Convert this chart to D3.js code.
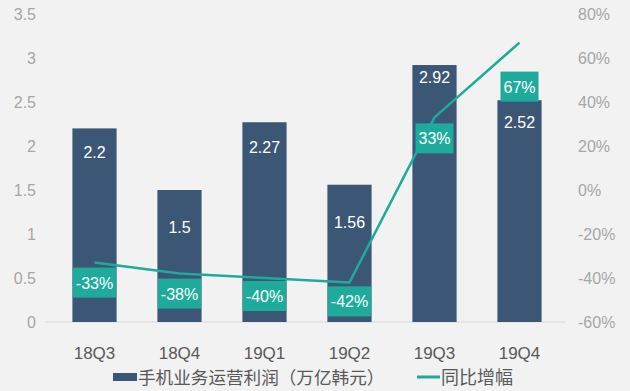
<!DOCTYPE html>
<html>
<head>
<meta charset="utf-8">
<script src="https://cdn.jsdelivr.net/npm/d3@7"></script>
<style>
  body { margin: 0; background: #f2f2f2; }
  svg { display: block; font-family: "Liberation Sans", Arial, sans-serif; }
</style>
</head>
<body>
<div id="chart"></div>
<script>
var width = 630;
var height = 391;

// data
var quarters = ["18Q3", "18Q4", "19Q1", "19Q2", "19Q3", "19Q4"];
var profit = [2.2, 1.5, 2.27, 1.56, 2.92, 2.52];     // 手机业务运营利润（万亿韩元）
var growth = [-33, -38, -40, -42, 33, 67];           // 同比增幅 %
var leftTicks = [0, 0.5, 1, 1.5, 2, 2.5, 3, 3.5];
var rightTicks = [-60, -40, -20, 0, 20, 40, 60, 80];

// label placement (px below the mark), as in the original
var valueDy = [24, 37, 25, 37, 12, 22];
var growthDy = [20, 20, 18, 19, 21, 44];

var barColor = "#3c5675";
var teal = "#1eab9c";

var svg = d3.select("#chart").append("svg")
    .attr("width", width)
    .attr("height", height);

svg.append("rect").attr("width", width).attr("height", height).attr("fill", "#f2f2f2");

var x = d3.scaleBand().domain(quarters).range([52, 562]).paddingInner(0.48).paddingOuter(0.24);
var y = d3.scaleLinear().domain([0, 3.5]).range([322, 14]);
var y2 = d3.scaleLinear().domain([-60, 80]).range([322, 14]);

// left axis
var yAxis = d3.axisLeft(y).tickValues(leftTicks).tickSize(0).tickPadding(0)
    .tickFormat(function(d) { return d; });
var gy = svg.append("g").attr("transform", "translate(36,0)").call(yAxis);
gy.select(".domain").remove();
gy.selectAll("text").attr("fill", "#a6a6a6").style("font-size", "16px");

// right axis
var yAxis2 = d3.axisRight(y2).tickValues(rightTicks).tickSize(0).tickPadding(0)
    .tickFormat(function(d) { return d + "%"; });
var gy2 = svg.append("g").attr("transform", "translate(578,0)").call(yAxis2);
gy2.select(".domain").remove();
gy2.selectAll("text").attr("fill", "#a6a6a6").style("font-size", "16px");

// baseline
svg.append("line")
    .attr("x1", 45).attr("x2", 566)
    .attr("y1", y(0)).attr("y2", y(0))
    .attr("stroke", "#d9d9d9").attr("stroke-width", 1);

// bars
svg.selectAll("rect.bar")
    .data(profit)
    .enter()
    .append("rect")
    .attr("class", "bar")
    .attr("x", function(d, i) { return x(quarters[i]); })
    .attr("y", function(d) { return y(d); })
    .attr("width", x.bandwidth())
    .attr("height", function(d) { return y(0) - y(d); })
    .attr("fill", barColor);

// bar value labels
svg.selectAll("text.val")
    .data(profit)
    .enter()
    .append("text")
    .attr("class", "val")
    .attr("x", function(d, i) { return x(quarters[i]) + x.bandwidth() / 2; })
    .attr("y", function(d, i) { return y(d) + valueDy[i] + 6; })
    .attr("text-anchor", "middle")
    .attr("fill", "#ffffff")
    .style("font-size", "16px")
    .text(function(d) { return d; });

// growth line
var line = d3.line()
    .x(function(d, i) { return x(quarters[i]) + x.bandwidth() / 2; })
    .y(function(d) { return y2(d); });

svg.append("path")
    .datum(growth)
    .attr("d", line)
    .attr("fill", "none")
    .attr("stroke", teal)
    .attr("stroke-width", 2.5)
    .attr("stroke-linejoin", "round");

// growth labels in boxes
var gl = svg.selectAll("g.glab")
    .data(growth)
    .enter()
    .append("g")
    .attr("class", "glab")
    .attr("transform", function(d, i) {
        return "translate(" + (x(quarters[i]) + x.bandwidth() / 2) + "," + (y2(d) + growthDy[i]) + ")";
    });

gl.append("rect").attr("fill", teal);
gl.append("text")
    .attr("text-anchor", "middle")
    .attr("y", 6)
    .attr("fill", "#ffffff")
    .style("font-size", "16px")
    .text(function(d) { return d + "%"; });

gl.each(function() {
    var g = d3.select(this);
    var w = g.select("text").node().getComputedTextLength() + 6;
    g.select("rect")
        .attr("x", -w / 2).attr("y", -15)
        .attr("width", w).attr("height", 30);
});

// x labels
svg.selectAll("text.xl")
    .data(quarters)
    .enter()
    .append("text")
    .attr("class", "xl")
    .attr("x", function(d) { return x(d) + x.bandwidth() / 2; })
    .attr("y", 359)
    .attr("text-anchor", "middle")
    .attr("fill", "#595959")
    .style("font-size", "17px")
    .text(function(d) { return d; });

// legend
var legend = svg.append("g");
legend.append("rect")
    .attr("x", 113).attr("y", 373)
    .attr("width", 24).attr("height", 8)
    .attr("fill", barColor);
legend.append("text")
    .attr("x", 138).attr("y", 384)
    .attr("fill", "#595959")
    .style("font-size", "17.6px")
    .style("font-family", "'Noto Sans CJK SC', sans-serif")
    .text("手机业务运营利润（万亿韩元）");
legend.append("line")
    .attr("x1", 417).attr("x2", 440)
    .attr("y1", 377).attr("y2", 377)
    .attr("stroke", teal).attr("stroke-width", 3);
legend.append("text")
    .attr("x", 441).attr("y", 384)
    .attr("fill", "#595959")
    .style("font-size", "18px")
    .style("font-family", "'Noto Sans CJK SC', sans-serif")
    .text("同比增幅");
</script>
</body>
</html>
